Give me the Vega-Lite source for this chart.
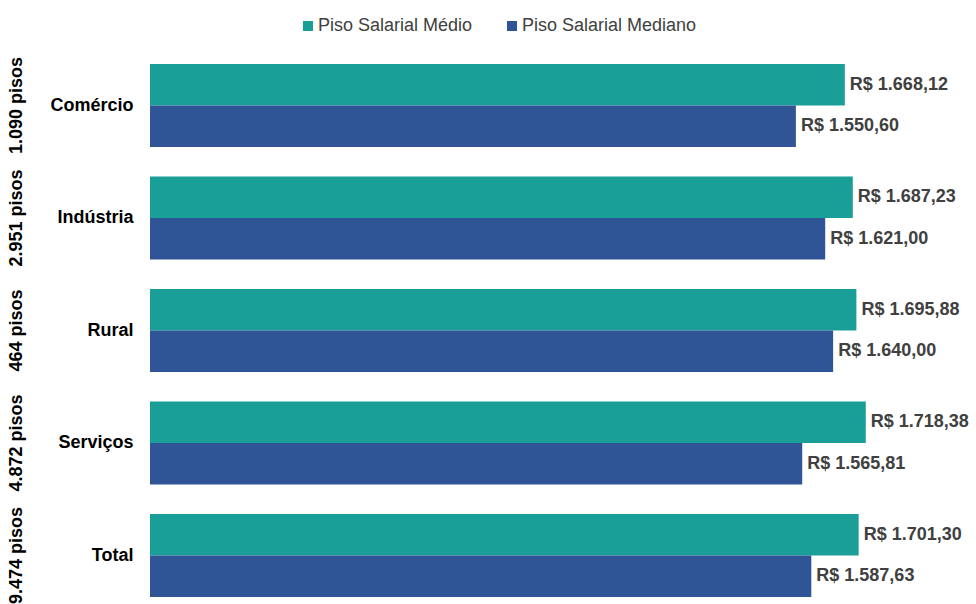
{
  "$schema": "https://vega.github.io/schema/vega-lite/v6.json",
  "width": 826,
  "height": 549,
  "autosize": "none",
  "padding": {"left": 150, "top": 56, "right": 0, "bottom": 0},
  "config": {
    "view": {"stroke": null},
    "font": "Arial, 'Liberation Sans', sans-serif",
    "locale": {"number": {"decimal": ",", "thousands": ".", "grouping": [3], "currency": ["R$ ", ""]}}
  },
  "data": {
    "values": [
      {"grupo": "Comércio|1.090 pisos", "serie": "Piso Salarial Médio", "valor": 1668.12},
      {"grupo": "Comércio|1.090 pisos", "serie": "Piso Salarial Mediano", "valor": 1550.60},
      {"grupo": "Indústria|2.951 pisos", "serie": "Piso Salarial Médio", "valor": 1687.23},
      {"grupo": "Indústria|2.951 pisos", "serie": "Piso Salarial Mediano", "valor": 1621.00},
      {"grupo": "Rural|464 pisos", "serie": "Piso Salarial Médio", "valor": 1695.88},
      {"grupo": "Rural|464 pisos", "serie": "Piso Salarial Mediano", "valor": 1640.00},
      {"grupo": "Serviços|4.872 pisos", "serie": "Piso Salarial Médio", "valor": 1718.38},
      {"grupo": "Serviços|4.872 pisos", "serie": "Piso Salarial Mediano", "valor": 1565.81},
      {"grupo": "Total|9.474 pisos", "serie": "Piso Salarial Médio", "valor": 1701.30},
      {"grupo": "Total|9.474 pisos", "serie": "Piso Salarial Mediano", "valor": 1587.63}
    ]
  },
  "encoding": {
    "yOffset": {"field": "serie", "type": "nominal", "sort": ["Piso Salarial Médio", "Piso Salarial Mediano"], "scale": {"paddingInner": 0}},
    "x": {"field": "valor", "type": "quantitative", "scale": {"domain": [0, 1983], "nice": false}, "axis": null}
  },
  "layer": [
    {
      "mark": {"type": "bar"},
      "encoding": {
        "y": {
          "field": "grupo", "type": "nominal", "sort": null,
          "scale": {"paddingInner": 0.262, "paddingOuter": 0.071},
          "axis": {
            "title": null, "orient": "left", "domain": false, "ticks": false, "tickSize": 0,
            "labelPadding": 17, "labelFontSize": 18, "labelFontWeight": "bold", "labelColor": "#000000",
            "labelExpr": "split(datum.label, '|')[0]"
          }
        },
        "color": {
          "field": "serie", "type": "nominal",
          "scale": {"domain": ["Piso Salarial Médio", "Piso Salarial Mediano"], "range": ["#1a9f98", "#2f5597"]},
          "legend": {
            "title": null, "orient": "none", "legendX": 149, "legendY": -39, "direction": "horizontal",
            "symbolType": "square", "symbolSize": 100, "symbolStrokeWidth": 0, "symbolOpacity": 1,
            "labelFontSize": 18, "labelColor": "#404040", "labelOffset": 1, "labelLimit": 400, "columnPadding": 30
          }
        }
      }
    },
    {
      "mark": {"type": "text", "align": "left", "baseline": "middle", "dx": 5, "fontWeight": "bold", "fontSize": 18, "color": "#404040"},
      "encoding": {
        "y": {
          "field": "grupo", "type": "nominal", "sort": null,
          "scale": {"paddingInner": 0.262, "paddingOuter": 0.071},
          "axis": {
            "title": null, "orient": "left", "offset": 134, "domain": false, "ticks": false, "tickSize": 0,
            "labelPadding": 0, "labelAngle": -90, "labelAlign": "center", "labelBaseline": "middle",
            "labelFontSize": 18, "labelFontWeight": "bold", "labelColor": "#000000",
            "labelExpr": "split(datum.label, '|')[1]"
          }
        },
        "text": {"field": "valor", "type": "quantitative", "format": "$,.2f"}
      }
    }
  ],
  "resolve": {"axis": {"y": "independent"}}
}
